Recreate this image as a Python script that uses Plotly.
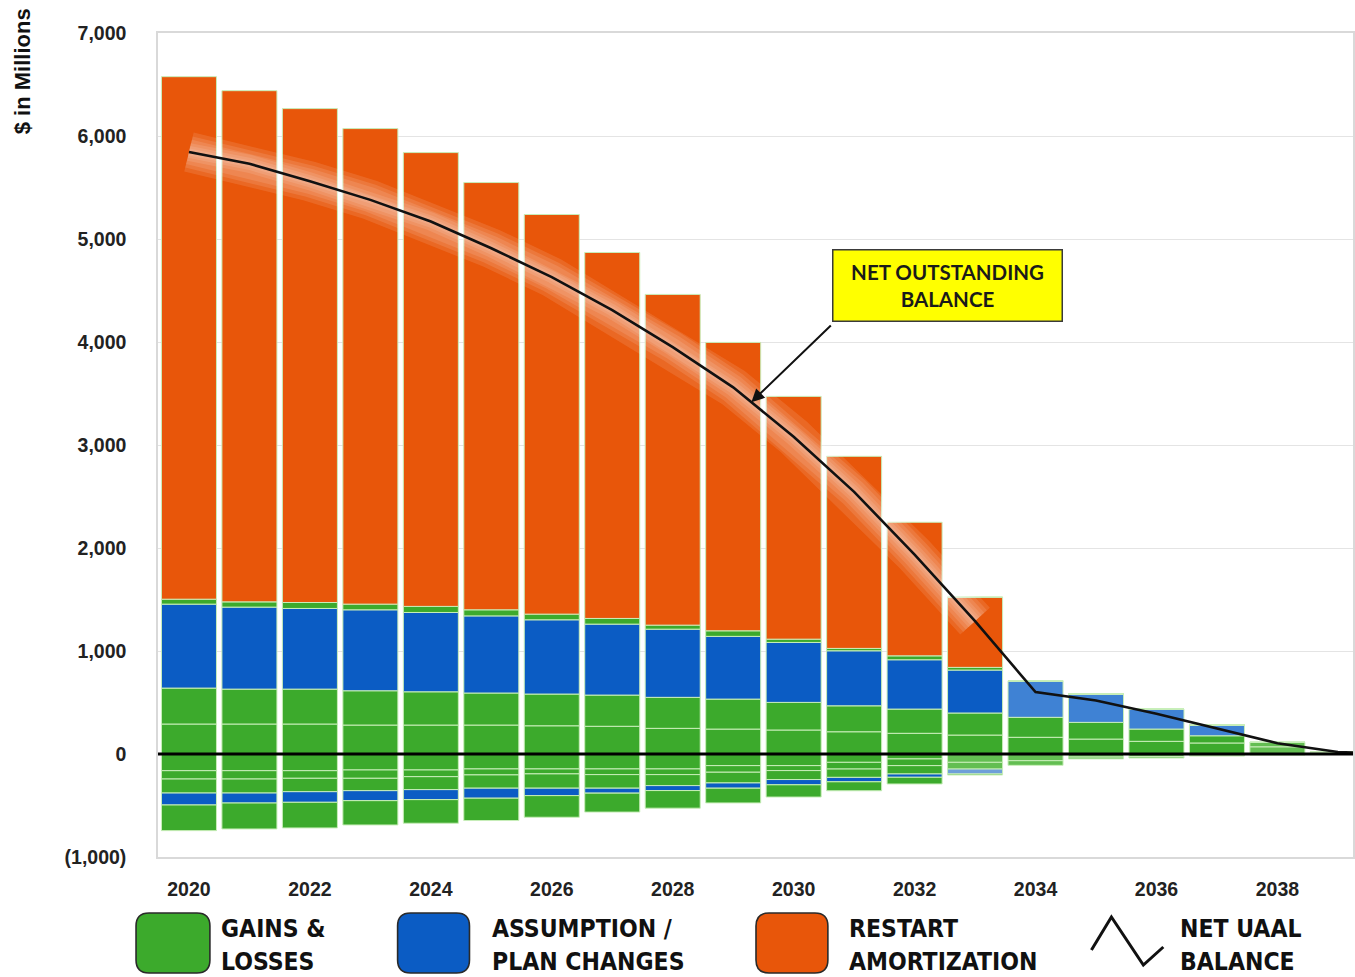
import plotly.graph_objects as go
import numpy as np

# ---------------- data ($ millions) ----------------
years = list(range(2020, 2040))
line_years = list(range(2020, 2041))
x_ticks = list(range(2020, 2039, 2))

y_tickvals = [-1000, 0, 1000, 2000, 3000, 4000, 5000, 6000, 7000]
y_ticktext = ["(1,000)", "0", "1,000", "2,000", "3,000", "4,000", "5,000", "6,000", "7,000"]

gains_pos_1 = [291, 291, 291, 281, 281, 281, 274, 269, 249, 242, 233, 216, 201, 184, 162, 145, 123, 107, 70, 15]
gains_pos_2 = [349, 339, 339, 333, 323, 311, 308, 303, 301, 291, 268, 252, 235, 214, 194, 162, 119, 70, 43, 8]
assump_pos = [815, 796, 783, 786, 770, 749, 721, 689, 662, 609, 582, 534, 479, 417, 355, 275, 194, 104, 0, 0]
gains_pos_3 = [48, 51, 58, 55, 59, 59, 55, 55, 39, 54, 32, 23, 38, 26, 0, 0, 0, 0, 0, 0]
restart = [5073, 4963, 4795, 4617, 4406, 4148, 3880, 3553, 3211, 2800, 2357, 1865, 1297, 682, 0, 0, 0, 0, 0, 0]

gains_neg_1 = [-162, -162, -162, -155, -155, -145, -145, -145, -145, -113, -113, -81, -48, -81, -65, -30, -25, -12, -6, 0]
gains_neg_2 = [-81, -81, -74, -81, -65, -58, -48, -55, -55, -64, -48, -65, -65, -65, -45, -18, -14, -8, -4, 0]
gains_neg_3 = [-136, -136, -130, -120, -126, -129, -139, -132, -107, -104, -87, -81, -81, 0, 0, 0, 0, 0, 0, 0]
assump_neg = [-116, -97, -103, -97, -97, -97, -72, -48, -48, -51, -51, -43, -32, -48, 0, 0, 0, 0, 0, 0]
gains_neg_4 = [-249, -252, -249, -236, -229, -217, -210, -184, -171, -143, -119, -87, -65, -10, 0, 0, 0, 0, 0, 0]

net_uaal = [5845, 5730, 5560, 5380, 5170, 4910, 4630, 4310, 3950, 3560, 3080, 2545, 1935, 1290,
            601, 520, 390, 250, 105, 20, 0]

legend_labels = [("GAINS &", "LOSSES"), ("ASSUMPTION /", "PLAN CHANGES"),
                 ("RESTART", "AMORTIZATION"), ("NET UAAL", "BALANCE")]
callout_text = "NET OUTSTANDING<br>BALANCE"
y_title = "$ in Millions"

# ---------------- styles ----------------
GREEN = "#3CAA2C"
GREEN_FADE = "#63BE52"
BLUE = "#0B5CC4"
BLUE_FADE = "#3F82D4"
ORANGE = "#E8560A"
SEP = "rgba(200,238,185,1)"
NARROW = "Liberation Sans Narrow, DejaVu Sans Condensed, sans-serif"
SANS = "Liberation Sans, Arial, sans-serif"

W, H = 1355, 977
L, R, T, B = 158, 0, 33, 120
PW, PH = W - L - R, H - T - B


def px(X):
    return (X - L) / PW


def py(Y):
    return (H - B - Y) / PH


def colors(base, fade, start_year):
    return [fade if y >= start_year else base for y in years]


fig = go.Figure()

stack = [
    (gains_pos_1, colors(GREEN, GREEN_FADE, 2038)), (gains_pos_2, colors(GREEN, GREEN_FADE, 2038)),
    (assump_pos, colors(BLUE, BLUE_FADE, 2034)), (gains_pos_3, GREEN), (restart, ORANGE),
    (gains_neg_1, colors(GREEN, GREEN_FADE, 2033)), (gains_neg_2, colors(GREEN, GREEN_FADE, 2033)),
    (gains_neg_3, GREEN), (assump_neg, colors(BLUE, "#6E9FD8", 2033)), (gains_neg_4, GREEN),
]
for vals, col in stack:
    fig.add_trace(go.Bar(x=years, y=vals, marker=dict(color=col, line=dict(color=SEP, width=1)),
                         hoverinfo="skip"))

# soft glow around the net line (first part)
glow_n = 14
for wdt in (40, 32, 25, 18, 12, 7):
    fig.add_trace(go.Scatter(x=line_years[:glow_n], y=net_uaal[:glow_n], mode="lines",
                             line=dict(color="rgba(255,255,255,0.11)", width=wdt), hoverinfo="skip"))
fig.add_trace(go.Scatter(x=line_years, y=net_uaal, mode="lines",
                         line=dict(color="#111111", width=2.6), hoverinfo="skip"))

shapes = []
# zero line on top of bars
shapes.append(dict(type="line", xref="paper", yref="y", x0=0, x1=1, y0=0, y1=0,
                   line=dict(color="#000000", width=3), layer="above"))


def rrect(x0, y0, x1, y1, r):
    pts = (f"M {px(x0 + r)},{py(y0)} L {px(x1 - r)},{py(y0)} "
           f"Q {px(x1)},{py(y0)} {px(x1)},{py(y0 + r)} L {px(x1)},{py(y1 - r)} "
           f"Q {px(x1)},{py(y1)} {px(x1 - r)},{py(y1)} L {px(x0 + r)},{py(y1)} "
           f"Q {px(x0)},{py(y1)} {px(x0)},{py(y1 - r)} L {px(x0)},{py(y0 + r)} "
           f"Q {px(x0)},{py(y0)} {px(x0 + r)},{py(y0)} Z")
    return pts


legend_boxes = [(136, 210, GREEN), (398, 470, BLUE), (757, 829, ORANGE)]
for x0, x1, col in legend_boxes:
    shapes.append(dict(type="path", xref="paper", yref="paper", path=rrect(x0, 913, x1, 973, 13),
                       fillcolor=col, line=dict(color="#2a2a2a", width=1.6), layer="above"))
# legend line icon
icon = [(1093, 950), (1113, 917), (1145, 965), (1165, 947)]
path = "M " + " L ".join(f"{px(a)},{py(b)}" for a, b in icon)
shapes.append(dict(type="path", xref="paper", yref="paper", path=path,
                   line=dict(color="#111111", width=3), layer="above"))

annotations = []
text_x = [219, 491, 848, 1180]
for (l1, l2), tx in zip(legend_labels, text_x):
    for txt, ty in ((l1, 928), (l2, 961)):
        annotations.append(dict(text=txt, xref="paper", yref="paper", x=px(tx), y=py(ty),
                                xanchor="left", yanchor="middle", showarrow=False,
                                font=dict(family=NARROW, size=24.5, color="#111111", weight="bold")))

annotations.append(dict(text=y_title, xref="paper", yref="paper", x=px(23), y=py(71),
                        xanchor="center", yanchor="middle", textangle=-90, showarrow=False,
                        font=dict(family=SANS, size=22, color="#111111", weight="bold")))

# callout box
annotations.append(dict(text=callout_text, xref="paper", yref="paper", x=px(949), y=py(285),
                        xanchor="center", yanchor="middle", showarrow=False, align="center",
                        width=228, height=70, bgcolor="#FFFF00", bordercolor="#3a3a3a",
                        borderwidth=1.5, borderpad=0,
                        font=dict(family="Lato, Open Sans, sans-serif", size=20.5, color="#1a1a1a",
                                  weight="bold")))
arrow_x = 2029.3
annotations.append(dict(text="", x=arrow_x, y=float(np.interp(arrow_x, line_years, net_uaal)),
                        xref="x", yref="y", showarrow=True, ax=81, ay=-78, arrowhead=2,
                        arrowsize=1.3, arrowwidth=2, arrowcolor="#111111", standoff=0))

fig.update_layout(
    width=W, height=H, margin=dict(l=L, r=R, t=T, b=B),
    paper_bgcolor="white", plot_bgcolor="white",
    barmode="relative", bargap=0.09, showlegend=False,
    shapes=shapes, annotations=annotations,
    xaxis=dict(range=[2019.488, 2039.25], tickvals=x_ticks, showgrid=False, zeroline=False,
               showline=True, linecolor="#d9d9d9", linewidth=1.5, mirror=True,
               ticks="", ticklabelstandoff=14,
               tickfont=dict(family=SANS, size=19.5, color="#222222", weight="bold")),
    yaxis=dict(range=[-1000, 7000], tickvals=y_tickvals, ticktext=y_ticktext,
               showgrid=True, gridcolor="#e4e4e4", gridwidth=1, zeroline=False,
               showline=True, linecolor="#d9d9d9", linewidth=1.5, mirror=True,
               ticks="", ticklabelstandoff=26,
               tickfont=dict(family=SANS, size=19.5, color="#222222", weight="bold")),
)

fig.write_html("out.html")
